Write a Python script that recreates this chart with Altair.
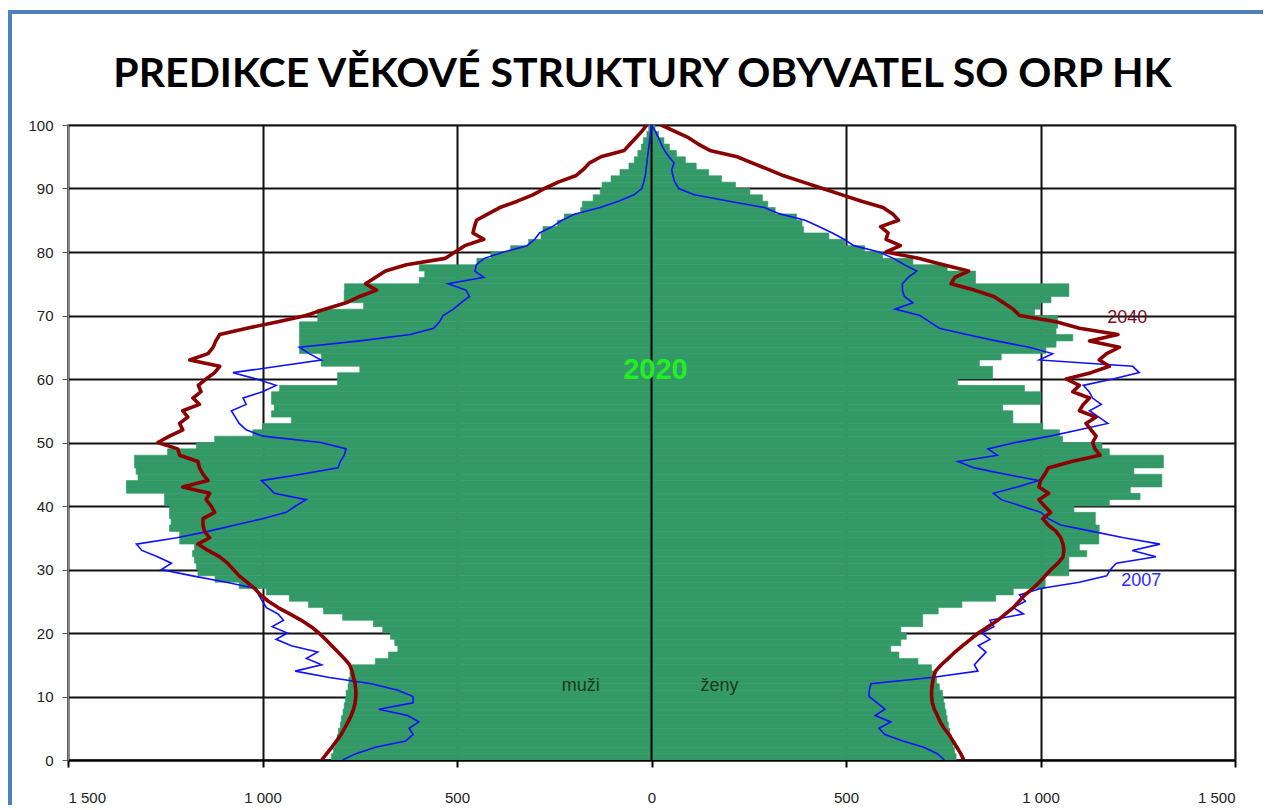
import altair as alt
import pandas as pd

TITLE = "PREDIKCE VĚKOVÉ STRUKTURY OBYVATEL SO ORP HK"

ages = list(range(0, 101))

# 2020 (green bars)
male_2020 = [823, 818, 813, 808, 805, 800, 797, 793, 790, 787,
             785, 780, 778, 775, 770, 710, 676, 652, 660, 671,
             691, 715, 794, 843, 882, 931, 990, 1060, 1122, 1166,
             1170, 1175, 1180, 1175, 1213, 1213, 1239, 1235, 1239, 1239,
             1252, 1252, 1350, 1350, 1320, 1325, 1329, 1329, 1244, 1170,
             1123, 1025, 1000, 926, 977, 970, 977, 977, 956, 807,
             807, 750, 849, 849, 905, 905, 905, 905, 905, 858,
             859, 740, 790, 790, 789, 597, 583, 597, 449, 413,
             362, 316, 284, 279, 242, 224, 182, 178, 150, 132,
             127, 104, 81, 58, 44, 35, 26, 21, 12, 7, 3]
female_2020 = [783, 779, 775, 771, 767, 763, 760, 757, 754, 751,
               748, 740, 733, 727, 720, 685, 636, 615, 641, 655,
               641, 697, 697, 737, 798, 885, 930, 1012, 1012, 1073,
               1073, 1073, 1119, 1100, 1150, 1150, 1151, 1141, 1141, 1086,
               1177, 1256, 1231, 1312, 1312, 1240, 1316, 1316, 1177, 1158,
               1057, 1049, 1006, 929, 929, 903, 1001, 1001, 959, 787,
               877, 877, 843, 899, 1014, 1040, 1083, 1040, 1044, 1044,
               985, 999, 1027, 1073, 1073, 833, 833, 760, 672, 594,
               548, 497, 456, 391, 387, 373, 318, 299, 285, 253,
               216, 180, 147, 115, 87, 64, 46, 32, 18, 9, 4]

# 2007 (blue line)
male_2007 = [794, 760, 710, 632, 613, 623, 598, 627, 701, 613,
             613, 652, 720, 828, 916, 848, 887, 858, 926, 965,
             936, 975, 946, 960, 990, 1000, 1010, 1016, 1093, 1180,
             1260, 1234, 1270, 1310, 1324, 1220, 1140, 1070, 1000, 939,
             915, 888, 970, 985, 1003, 900, 806, 800, 790, 785,
             850, 999, 1042, 1060, 1070, 1080, 1042, 1050, 1000, 965,
             1016, 1076, 960, 849, 880, 905, 750, 620, 560, 545,
             536, 509, 490, 468, 477, 523, 431, 454, 450, 430,
             380, 320, 300, 288, 255, 230, 196, 132, 85, 45,
             25, 20, 16, 14, 12, 10, 8, 6, 4, 2, 0]
female_2007 = [753, 735, 700, 646, 600, 585, 615, 575, 600, 580,
               559, 560, 564, 720, 839, 830, 845, 860, 840, 870,
               849, 880, 870, 956, 930, 961, 946, 1000, 1100, 1170,
               1180, 1195, 1297, 1236, 1307, 1214, 1133, 1052, 1020, 1001,
               950, 899, 879, 940, 996, 910, 830, 788, 889, 865,
               935, 1025, 1100, 1173, 1150, 1126, 1156, 1134, 1125, 1110,
               1186, 1254, 1237, 997, 1031, 971, 886, 810, 740, 715,
               690, 626, 672, 650, 645, 645, 660, 682, 650, 622,
               585, 520, 495, 465, 430, 395, 330, 290, 200, 110,
               70, 60, 55, 52, 58, 45, 33, 25, 18, 10, 0]

# 2040 (dark red line)
male_2040 = [848, 835, 822, 810, 798, 789, 780, 772, 766, 762,
             760, 760, 762, 766, 770, 776, 790, 806, 822, 838,
             855, 875, 900, 930, 960, 985, 1005, 1020, 1040, 1060,
             1075, 1090, 1110, 1140, 1166, 1136, 1149, 1153, 1153, 1123,
             1132, 1145, 1136, 1205, 1140, 1153, 1162, 1166, 1213, 1218,
             1269, 1239, 1205, 1213, 1192, 1205, 1162, 1179, 1158, 1165,
             1145, 1123, 1110, 1187, 1140, 1127, 1120, 1110, 1040, 960,
             888, 840, 785, 750, 707, 735, 710, 684, 630, 530,
             505, 480, 431, 459, 455, 450, 420, 390, 345, 305,
             275, 240, 195, 175, 160, 130, 70, 55, 40, 25, 12]
female_2040 = [803, 795, 785, 775, 765, 752, 742, 735, 727, 722,
               720, 720, 722, 725, 730, 745, 763, 780, 800, 820,
               840, 865, 890, 910, 930, 945, 960, 980, 997, 1012,
               1027, 1045, 1058, 1060, 1058, 1052, 1040, 1020, 1006, 1026,
               1010, 996, 1021, 996, 1000, 1011, 1020, 1080, 1153, 1140,
               1134, 1143, 1130, 1117, 1143, 1100, 1110, 1126, 1083, 1100,
               1066, 1130, 1177, 1151, 1170, 1203, 1126, 1199, 1100, 1040,
               946, 930, 905, 880, 830, 770, 780, 815, 750, 686,
               603, 640, 603, 608, 589, 635, 620, 595, 540, 490,
               440, 390, 340, 300, 260, 220, 150, 120, 95, 60, 25]

x_ticks = [-1500, -1000, -500, 0, 500, 1000, 1500]
y_ticks = list(range(0, 101, 10))

label_text = ["2040", "2007", "muži", "ženy"]
label_value = [1223, 1259, -182, 175]
label_age = [69.6, 28.2, 11.65, 11.65]
label_color = ["#7a0c1c", "#2a2aff", "#1b3a1b", "#1b3a1b"]
big_text = ["2020"]
big_value = [10]
big_age = [61.4]

sexes = ["muži"] * len(ages) + ["ženy"] * len(ages)

bars_df = pd.DataFrame({
    "age": ages * 2,
    "age_top": [a + 1 for a in ages] * 2,
    "value": [-v for v in male_2020] + female_2020,
    "zero": 0,
    "sex": sexes,
})


def line_df(m, f):
    return pd.DataFrame({
        "age": ages * 2,
        "value": [-v for v in m] + f,
        "sex": sexes,
    })


xscale = alt.Scale(domain=[-1500, 1500], nice=False, zero=False)
yscale = alt.Scale(domain=[0, 100], nice=False, zero=False)

x_axis = alt.Axis(
    values=x_ticks, grid=True, title=None,
    labelExpr="replace(format(abs(datum.value), ','), ',', ' ')",
    labelFont="Liberation Sans", labelFontSize=15, labelColor="#222222",
    labelPadding=23, tickSize=7, tickColor="#000000", tickWidth=2,
    domainColor="#000000", domainWidth=2,
)
y_axis = alt.Axis(
    values=y_ticks, grid=True, title=None,
    labelFont="Liberation Sans", labelFontSize=15, labelColor="#222222",
    labelPadding=9, tickSize=6, tickColor="#555555", tickWidth=1,
    domainColor="#8a8a8a", domainWidth=1,
)

X = alt.X("value:Q", scale=xscale, axis=x_axis)
Y = alt.Y("age:Q", scale=yscale, axis=y_axis)

bars = alt.Chart(bars_df).mark_bar(
    color="#339966", stroke="#339966", strokeWidth=0.6, clip=True
).encode(x=X, x2="zero:Q", y=Y, y2="age_top:Q")

center = alt.Chart(pd.DataFrame({"value": [0]})).mark_rule(
    color="#000000", strokeWidth=2
).encode(x=X)

blue = alt.Chart(line_df(male_2007, female_2007)).mark_line(
    color="#1010ff", strokeWidth=1.6, clip=True
).encode(x=X, y=Y, detail="sex:N", order="age:Q")

red = alt.Chart(line_df(male_2040, female_2040)).mark_line(
    color="#8b0000", strokeWidth=3.6, strokeJoin="round", clip=True
).encode(x=X, y=Y, detail="sex:N", order="age:Q")

labels = alt.Chart(pd.DataFrame({
    "text": label_text, "value": label_value, "age": label_age, "color": label_color,
})).mark_text(font="Liberation Sans", fontSize=18, align="center", baseline="middle").encode(
    x=X, y=Y, text="text:N", color=alt.Color("color:N", scale=None),
)

big = alt.Chart(pd.DataFrame({"text": big_text, "value": big_value, "age": big_age})).mark_text(
    font="Liberation Sans", fontSize=29, fontWeight="bold", color="#22ee22",
    align="center", baseline="middle",
).encode(x=X, y=Y, text="text:N")

one = pd.DataFrame({"k": [0]})
frame_top = alt.Chart(one).mark_rule(color="#4f81bd", strokeWidth=4).encode(
    x=alt.value(-60), x2=alt.value(1215), y=alt.value(-113)
)
frame_left = alt.Chart(one).mark_rule(color="#4f81bd", strokeWidth=4).encode(
    x=alt.value(-58), y=alt.value(-115), y2=alt.value(700)
)

chart = alt.layer(
    bars, center, blue, red, labels, big, frame_top, frame_left
).properties(
    width=1167,
    height=635,
    autosize=alt.AutoSizeParams(type="none"),
    padding={"left": 60, "top": 117, "right": 28, "bottom": 45},
    title=alt.Title(
        TITLE, font="Lato",
        fontSize=41, fontWeight="bold", color="#000000",
        anchor="middle", frame="group", baseline="alphabetic", offset=-120, dx=-9,
    ),
).configure_view(
    stroke="#a6a6a6", strokeWidth=2
).configure_axis(
    gridColor="#111111", gridWidth=2, gridOpacity=1
)

chart.save("out.html", embed_options={"renderer": "svg", "actions": False})
